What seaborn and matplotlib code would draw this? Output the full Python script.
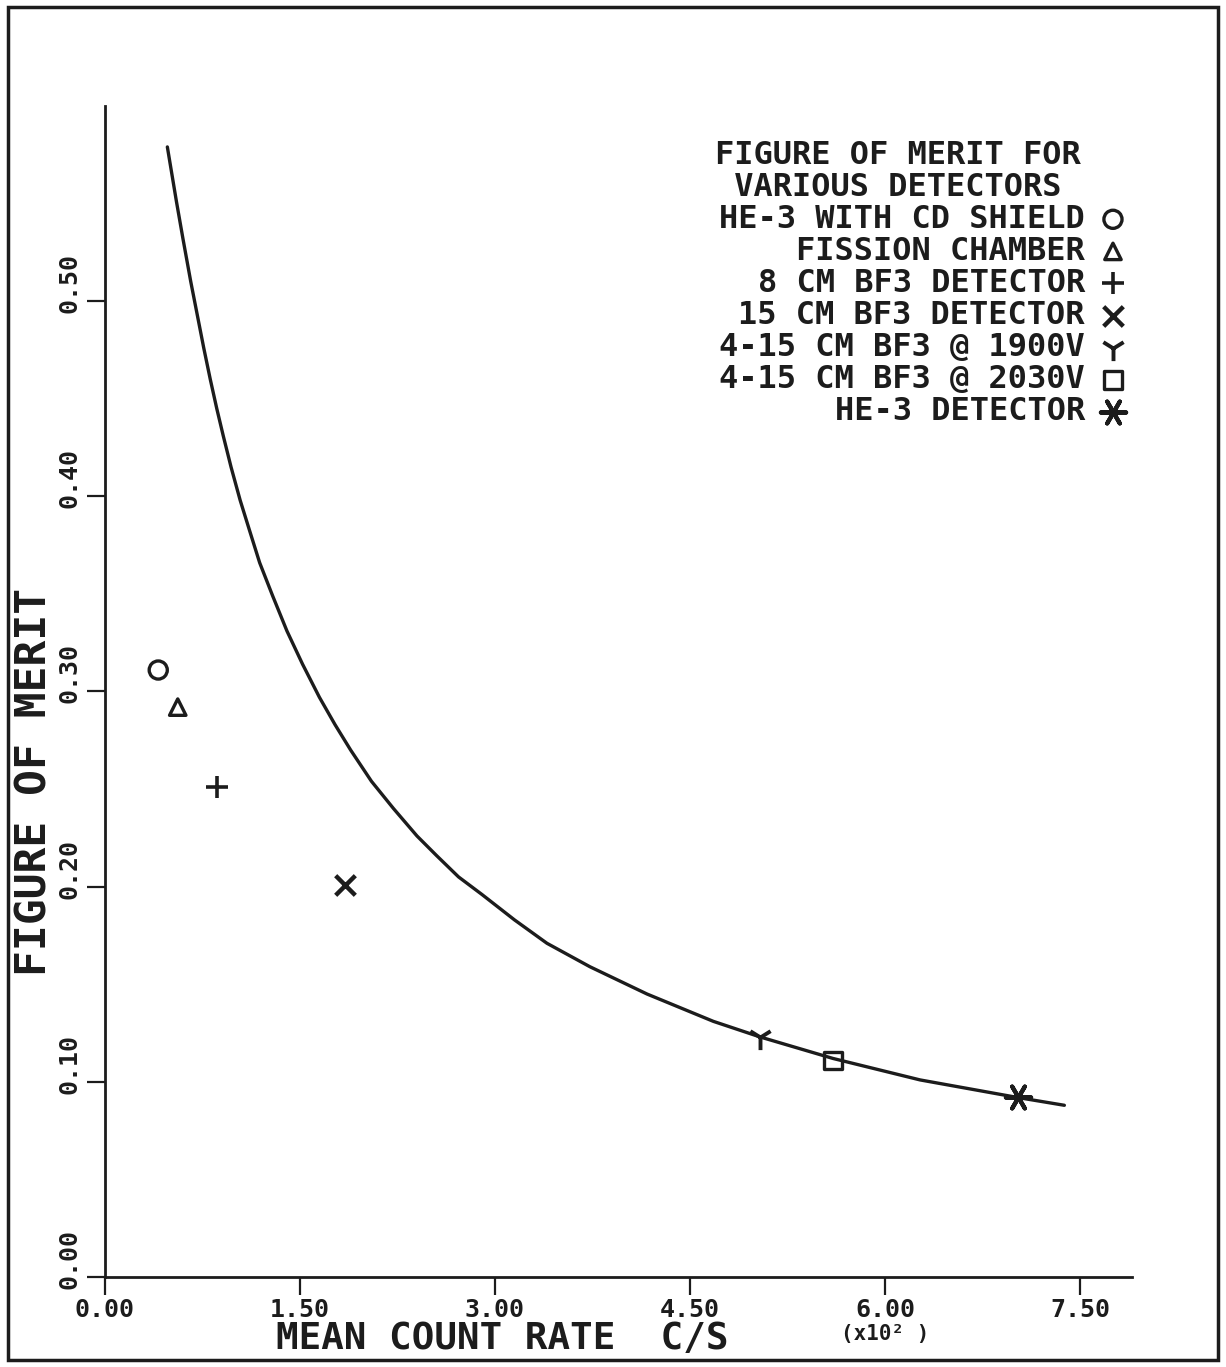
import matplotlib
matplotlib.use("Agg")
import matplotlib.pyplot as plt
import seaborn as sns
from matplotlib.transforms import ScaledTranslation
from matplotlib.patches import Rectangle

# ---------------- data ----------------
curve_rate = [0.48, 0.55, 0.60, 0.66, 0.71, 0.76, 0.81, 0.86, 0.91, 0.97, 1.04,
              1.11, 1.19, 1.29, 1.40, 1.52, 1.65, 1.77, 1.89, 2.05, 2.22, 2.40,
              2.55, 2.72, 2.90, 3.15, 3.40, 3.73, 4.17, 4.68, 5.04, 5.60, 6.27,
              7.02, 7.38]
curve_fom = [0.579, 0.551, 0.532, 0.510, 0.493, 0.476, 0.460, 0.445, 0.431, 0.415, 0.398,
             0.383, 0.366, 0.349, 0.331, 0.314, 0.297, 0.283, 0.270, 0.254, 0.240, 0.226,
             0.216, 0.205, 0.196, 0.183, 0.171, 0.159, 0.145, 0.131, 0.123, 0.112, 0.101,
             0.092, 0.088]

detectors = ["HE-3 WITH CD SHIELD", "FISSION CHAMBER", "8 CM BF3 DETECTOR",
             "15 CM BF3 DETECTOR", "4-15 CM BF3 @ 1900V", "4-15 CM BF3 @ 2030V",
             "HE-3 DETECTOR"]
det_rate = [0.41, 0.56, 0.86, 1.85, 5.04, 5.60, 7.02]
det_fom = [0.311, 0.292, 0.251, 0.201, 0.123, 0.111, 0.092]

legend_title = ["FIGURE OF MERIT FOR", " VARIOUS DETECTORS"]

x_ticks = [0.0, 1.5, 3.0, 4.5, 6.0, 7.5]
x_tick_labels = ["0.00", "1.50", "3.00", "4.50", "6.00", "7.50"]
y_ticks = [0.0, 0.1, 0.2, 0.3, 0.4, 0.5]
y_tick_labels = ["0.00", "0.10", "0.20", "0.30", "0.40", "0.50"]

# ---------------- style ----------------
ink = "#1c1c1c"
marker_styles = [
    dict(marker="o", s=170, facecolor="none", edgecolor=ink, linewidth=2.4),
    dict(marker="^", s=140, facecolor="none", edgecolor=ink, linewidth=2.4),
    dict(marker="+", s=260, color=ink, linewidth=2.6),
    dict(marker="x", s=200, color=ink, linewidth=3.2),
    dict(marker="1", s=330, color=ink, linewidth=2.8),
    dict(marker="s", s=160, facecolor="none", edgecolor=ink, linewidth=2.4),
    dict(marker=(6, 2, 90), s=330, color=ink, linewidth=3.0),
]

sns.set_style("ticks")
plt.rcParams["font.family"] = ["DejaVu Sans Mono", "DejaVu Sans"]
plt.rcParams["font.weight"] = "bold"
plt.rcParams["text.color"] = ink
plt.rcParams["axes.labelcolor"] = ink
plt.rcParams["axes.labelweight"] = "bold"
plt.rcParams["xtick.color"] = ink
plt.rcParams["ytick.color"] = ink

fig = plt.figure(figsize=(12.26, 13.67), dpi=100)
fig.patch.set_facecolor("white")
ax = fig.add_axes([0.0856, 0.0658, 0.8377, 0.8567])
ax.set_facecolor("white")

sns.lineplot(x=curve_rate, y=curve_fom, ax=ax, color=ink, linewidth=2.4,
             sort=False, estimator=None)

for xv, yv, st in zip(det_rate, det_fom, marker_styles):
    sns.scatterplot(x=[xv], y=[yv], ax=ax, zorder=3, **st)

ax.set_xlim(0, 7.9)
ax.set_ylim(0, 0.60)
ax.set_xticks(x_ticks)
ax.set_xticklabels(x_tick_labels, fontsize=18, fontweight="bold")
ax.set_yticks(y_ticks)
ax.set_yticklabels(y_tick_labels, fontsize=18, fontweight="bold", rotation=90, va="center")
ax.tick_params(axis="x", direction="out", length=13, width=1.6, pad=2)
ax.tick_params(axis="y", direction="out", length=13, width=1.6, pad=4)
sns.despine(ax=ax)
for sp in ("left", "bottom"):
    ax.spines[sp].set_linewidth(2.0)
    ax.spines[sp].set_color(ink)

off = ScaledTranslation(0, 0.18, fig.dpi_scale_trans)
for lab in ax.get_yticklabels():
    lab.set_transform(lab.get_transform() + off)

ax.set_xlabel("MEAN COUNT RATE  C/S", fontsize=27, fontweight="bold")
ax.xaxis.set_label_coords(0.387, -0.0375)
ax.text(0.7595, -0.049, "(x10² )", transform=ax.transAxes, fontsize=15,
        ha="center", va="center", fontweight="bold")
ax.set_ylabel("FIGURE OF MERIT", fontsize=31, fontweight="bold")
ax.yaxis.set_label_coords(-0.048, 0.423)

# legend block (manual, plotter style)
y0, step = 0.958, 0.0274
for i, t in enumerate(legend_title):
    ax.text(0.594, y0 - i * step, t, transform=ax.transAxes, fontsize=23,
            ha="left", va="center", fontweight="bold")
for j, (name, st) in enumerate(zip(detectors, marker_styles)):
    yy = y0 - (j + 2) * step
    ax.text(0.9542, yy, name, transform=ax.transAxes, fontsize=23,
            ha="right", va="center", fontweight="bold")
    ax.scatter([0.9815], [yy], transform=ax.transAxes, clip_on=False, zorder=3,
               **{k: v for k, v in st.items()})

# outer frame of the page
fig.patches.append(Rectangle((8 / 1226, 7 / 1367), 1210 / 1226, 1353 / 1367,
                             transform=fig.transFigure, fill=False,
                             edgecolor=ink, linewidth=2.5))

fig.savefig("out.png", dpi=100, facecolor="white")
